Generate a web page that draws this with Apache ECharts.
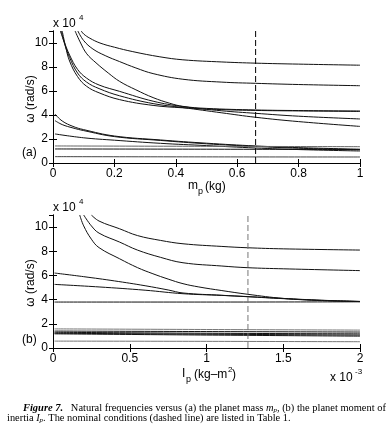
<!DOCTYPE html>
<html><head><meta charset="utf-8">
<script src="https://cdn.jsdelivr.net/npm/echarts@6/dist/echarts.min.js"></script>
<style>html,body{margin:0;padding:0;background:#fff}#c{width:387px;height:427px}</style>
</head><body><div id="c"></div>
<script>
// ---------- Panel (a): omega (x1e4 rad/s) vs planet mass m_p (kg) ----------
const massTicks = [0, 0.2, 0.4, 0.6, 0.8, 1];
const omegaTicks = [0, 2, 4, 6, 8, 10];
const nominalMass = 0.66;
const massA = [[0.092,11],[0.1,10.75],[0.12,10.4],[0.153,10.0],[0.2,9.65],[0.26,9.28],[0.348,8.85],[0.423,8.6],[0.55,8.42],[0.66,8.32],[0.8,8.24],[1,8.15]];
const massB = [[0.081,11],[0.1,10.2],[0.13,9.5],[0.17,8.95],[0.217,8.45],[0.27,7.92],[0.326,7.45],[0.423,6.98],[0.55,6.74],[0.66,6.64],[0.8,6.54],[1,6.44]];
const massC = [[0.072,11],[0.09,10.0],[0.11,9.1],[0.14,8.35],[0.18,7.5],[0.217,6.8],[0.27,6.1],[0.326,5.45],[0.38,4.98],[0.423,4.72],[0.5,4.55],[0.66,4.42],[0.8,4.37],[1,4.33]];
const massS1 = [[0.024,11],[0.035,10.2],[0.054,9.0],[0.08,7.8],[0.109,7.08],[0.15,6.5],[0.217,5.97],[0.326,5.15],[0.423,4.7],[0.55,4.35],[0.66,4.14],[0.8,3.9],[1,3.67]];
const massS2 = [[0.027,11],[0.038,9.9],[0.054,8.8],[0.08,7.5],[0.109,6.75],[0.15,6.2],[0.217,5.6],[0.326,4.95],[0.423,4.62],[0.55,4.18],[0.66,3.81],[0.8,3.45],[1,3.05]];
const massS3 = [[0.03,11],[0.041,9.7],[0.054,8.5],[0.08,7.2],[0.109,6.4],[0.15,5.85],[0.217,5.28],[0.326,4.8],[0.423,4.6],[0.55,4.45],[0.66,4.38],[0.8,4.34],[1,4.3]];
const massL1 = [[0.0065,4.08],[0.03,3.5],[0.065,3.05],[0.1,2.78],[0.2,2.25],[0.35,1.92],[0.5,1.65],[0.66,1.42],[0.8,1.28],[1,1.15]];
const massL2 = [[0.0065,3.53],[0.03,3.2],[0.065,2.92],[0.1,2.7],[0.2,2.2],[0.35,1.88],[0.5,1.6],[0.66,1.38],[0.8,1.23],[1,1.1]];
const massL3 = [[0.0065,2.42],[0.1,2.1],[0.2,1.9],[0.35,1.64],[0.5,1.45],[0.66,1.25],[0.8,1.12],[1,1.0]];
const massF1 = [[0.0065,1.42],[0.5,1.39],[1,1.36]];
const massF2 = [[0.0065,1.17],[0.5,1.15],[1,1.12]];
const massF3 = [[0.0065,0.53],[0.5,0.51],[1,0.5]];

// ---------- Panel (b): omega (x1e4 rad/s) vs planet inertia I_p (x1e-3 kg-m^2) ----------
const inertiaTicks = [0, 0.5, 1, 1.5, 2];
const nominalInertia = 1.27;
const inerP1 = [[0.25,11],[0.3,10.5],[0.434,9.86],[0.55,9.3],[0.7,8.9],[0.847,8.62],[1.1,8.4],[1.27,8.29],[1.5,8.2],[2,8.1]];
const inerP2 = [[0.2,11],[0.25,10.1],[0.3,9.5],[0.434,8.76],[0.55,8.1],[0.7,7.5],[0.847,7.05],[1.1,6.78],[1.27,6.64],[1.5,6.55],[2,6.4]];
const inerP3 = [[0.174,11],[0.2,10.1],[0.25,9.0],[0.3,8.3],[0.434,7.38],[0.55,6.65],[0.651,6.14],[0.75,5.7],[0.847,5.32],[0.95,5.05],[1.1,4.75],[1.27,4.44],[1.5,4.1],[1.75,3.92],[2,3.84]];
const inerP4 = [[0.01,6.2],[0.2,5.9],[0.4,5.55],[0.6,5.15],[0.75,4.8],[0.847,4.55],[1.1,4.36],[1.27,4.25],[1.5,4.1],[1.75,3.95],[2,3.85]];
const inerP5 = [[0.01,5.26],[0.3,5.05],[0.6,4.78],[0.847,4.49],[1.1,4.35],[1.27,4.24],[1.5,4.08],[1.75,3.94],[2,3.85]];
const inerP6 = [[0.01,3.8],[1,3.8],[2,3.82]];
const inerQ1 = [[0.01,1.58],[1,1.53],[2,1.48]];
const inerQ2 = [[0.01,1.4],[1,1.36],[2,1.32]];
const inerQ3 = [[0.01,1.3],[1,1.22],[2,1.17]];
const inerQ4 = [[0.01,1.22],[1,1.14],[2,1.07]];
const inerQ5 = [[0.01,1.17],[1,1.07],[2,0.98]];
const inerQ6 = [[0.01,0.57],[1,0.55],[2,0.52]];

const FONT = 'Liberation Sans';
function curve(data, idx, color) {
  return { type: 'line', xAxisIndex: idx, yAxisIndex: idx, data: data, showSymbol: false,
    smooth: 0.4, clip: true, silent: true,
    lineStyle: { color: color || '#111', width: 1 } };
}
function vline(xv, idx, color) {
  return { type: 'line', xAxisIndex: idx, yAxisIndex: idx, data: [[xv, 0], [xv, 11]], showSymbol: false, silent: true,
    lineStyle: { color: color, width: 1, type: [6, 3] } };
}
function xAx(grid, max, interval, pos, labels) {
  return { type: 'value', gridIndex: grid, min: 0, max: max, interval: interval, position: pos,
    axisLine: { show: true, lineStyle: { color: '#000', width: 1 } },
    axisTick: { show: true, inside: true, length: 4, lineStyle: { color: '#000' } },
    axisLabel: { show: labels, color: '#000', fontSize: 12, fontFamily: FONT, margin: 5 },
    splitLine: { show: false } };
}
function yAx(grid, pos, labels) {
  return { type: 'value', gridIndex: grid, min: 0, max: 11, interval: 2, position: pos,
    axisLine: { show: true, lineStyle: { color: '#000', width: 1 } },
    axisTick: { show: true, inside: true, length: 4, lineStyle: { color: '#000' } },
    axisLabel: { show: labels, color: '#000', fontSize: 12, fontFamily: FONT, margin: 5, showMaxLabel: false },
    splitLine: { show: false } };
}
const txt = (t, x, y, size, extra) => Object.assign({ type: 'text', x: x, y: y,
  style: { text: t, font: (size || 12) + 'px ' + FONT, fill: '#000', textAlign: 'left', textVerticalAlign: 'middle' } }, extra || {});

const chart = echarts.init(document.getElementById('c'));
chart.setOption({
  animation: false,
  backgroundColor: '#fff',
  grid: [
    { left: 53, top: 31, width: 307, height: 132 },
    { left: 53, top: 215, width: 307, height: 133 }
  ],
  xAxis: [xAx(0, 1, 0.2, 'bottom', true), xAx(0, 1, 0.2, 'top', false),
          xAx(1, 2, 0.5, 'bottom', true), xAx(1, 2, 0.5, 'top', false)],
  yAxis: [yAx(0, 'left', true), yAx(0, 'right', false), yAx(1, 'left', true), yAx(1, 'right', false)],
  series: [
    curve(massA, 0), curve(massB, 0), curve(massC, 0), curve(massS1, 0), curve(massS2, 0), curve(massS3, 0),
    curve(massL1, 0), curve(massL2, 0), curve(massL3, 0), curve(massF1, 0, '#666'), curve(massF2, 0), curve(massF3, 0, '#444'),
    vline(nominalMass, 0, '#000'),
    curve(inerP1, 2), curve(inerP2, 2), curve(inerP3, 2), curve(inerP4, 2), curve(inerP5, 2), curve(inerP6, 2),
    curve(inerQ1, 2, '#777'), curve(inerQ2, 2), curve(inerQ3, 2), curve(inerQ4, 2), curve(inerQ5, 2), curve(inerQ6, 2, '#777'),
    vline(nominalInertia, 2, '#777')
  ],
  graphic: [
    txt('x 10', 53, 24, 12), txt('4', 79, 18, 8),
    txt('x 10', 53, 208, 12), txt('4', 79, 202, 8),
    txt('ω (rad/s)', 31, 99, 12, { rotation: Math.PI / 2, style: { text: 'ω (rad/s)', font: '12px ' + FONT, fill: '#000', textAlign: 'center', textVerticalAlign: 'middle' } }),
    txt('ω (rad/s)', 31, 283, 12, { rotation: Math.PI / 2, style: { text: 'ω (rad/s)', font: '12px ' + FONT, fill: '#000', textAlign: 'center', textVerticalAlign: 'middle' } }),
    txt('(a)', 22, 153, 12), txt('(b)', 22, 340, 12),
    txt('m', 188, 186, 12), txt('p', 198, 192, 9),
    txt('(kg)', 205, 187, 12),
    txt('I', 182, 374, 12), txt('p', 186, 380, 9),
    txt('(kg–m', 194, 375, 12), txt('2', 228, 370, 8),
    txt(')', 232, 375, 12),
    txt('x 10', 330, 378, 12), txt('-3', 355, 372, 8),
    { type: 'text', x: 23, y: 408, style: {
        text: '{b|Figure 7.}   Natural frequencies versus (a) the planet mass {i|m}{s|p}, (b) the planet moment of',
        font: '10.45px Liberation Serif', fill: '#000', textVerticalAlign: 'middle',
        rich: { b: { font: 'italic bold 10.45px Liberation Serif', fill: '#000' },
                i: { font: 'italic 10.45px Liberation Serif', fill: '#000' },
                s: { font: 'italic 7px Liberation Serif', fill: '#000', padding: [4, 0, 0, 0] } } } },
    { type: 'text', x: 7, y: 418, style: {
        text: 'inertia {i|I}{s|p}. The nominal conditions (dashed line) are listed in Table 1.',
        font: '10.4px Liberation Serif', fill: '#000', textVerticalAlign: 'middle',
        rich: { i: { font: 'italic 10.4px Liberation Serif', fill: '#000' },
                s: { font: 'italic 7px Liberation Serif', fill: '#000', padding: [4, 0, 0, 0] } } } }
  ]
});
</script></body></html>
